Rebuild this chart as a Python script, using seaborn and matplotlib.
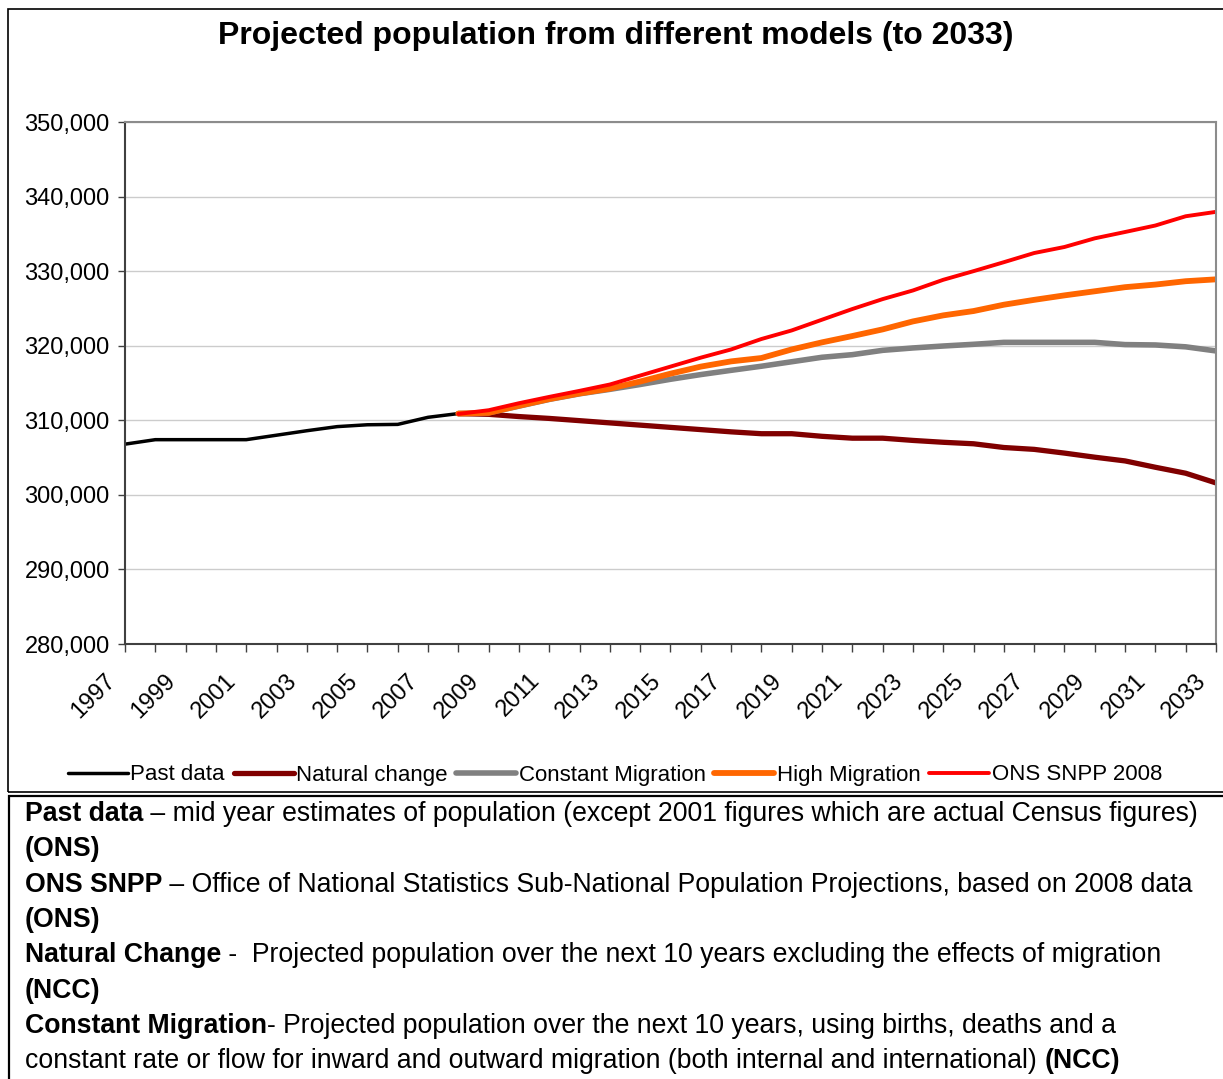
import pandas as pd
import seaborn as sns
import matplotlib.pyplot as plt
from matplotlib.patches import Rectangle
from matplotlib.ticker import FuncFormatter, MultipleLocator
from matplotlib.transforms import ScaledTranslation

# Data
past_years = list(range(1997, 2009))
past_data = [306800, 307400, 307400, 307400, 307400, 308000, 308600, 309150,
             309400, 309450, 310400, 310900]

proj_years = list(range(2008, 2034))
natural_change = [310900, 310800, 310500, 310250, 309950, 309650, 309350, 309050,
                  308750, 308450, 308200, 308200, 307850, 307600, 307600, 307300,
                  307050, 306850, 306350, 306100, 305600, 305050, 304550, 303700,
                  302900, 301600]
constant_migration = [310900, 311000, 311900, 312800, 313550, 314150, 314800, 315500,
                      316130, 316700, 317250, 317850, 318450, 318800, 319380, 319700,
                      319960, 320190, 320450, 320450, 320450, 320450, 320150, 320100,
                      319850, 319300]
high_migration = [310900, 311000, 311950, 312850, 313600, 314250, 315200, 316250,
                  317200, 317900, 318350, 319500, 320450, 321300, 322190, 323260,
                  324070, 324650, 325500, 326150, 326750, 327300, 327850, 328200,
                  328650, 328900]
ons_snpp = [310850, 311350, 312290, 313140, 313950, 314800, 316000, 317200,
            318400, 319500, 320900, 322050, 323490, 324920, 326250, 327410,
            328840, 330000, 331200, 332430, 333240, 334400, 335250, 336120,
            337360, 337950]

series_names = ["Past data", "Natural change", "Constant Migration",
                "High Migration", "ONS SNPP 2008"]
series_colors = ["#000000", "#800000", "#808080", "#FF6600", "#FF0000"]
series_widths = [2.5, 3.8, 4.0, 4.2, 2.8]

frames = [pd.DataFrame({"year": past_years, "population": past_data, "model": "Past data"})]
for name, vals in zip(series_names[1:], [natural_change, constant_migration,
                                         high_migration, ons_snpp]):
    frames.append(pd.DataFrame({"year": proj_years, "population": vals, "model": name}))
df = pd.concat(frames, ignore_index=True)

sns.set_style("white")
plt.rcParams['font.family'] = ['Liberation Sans', 'DejaVu Sans']
plt.rcParams['text.color'] = 'black'
plt.rcParams['xtick.color'] = 'black'
plt.rcParams['ytick.color'] = 'black'

W, H = 1223, 1079
fig = plt.figure(figsize=(W / 100, H / 100), dpi=100)
ax = fig.add_axes([125 / W, 1 - 644 / H, (1216 - 125) / W, (644 - 122) / H])

for name, col, lw in zip(series_names, series_colors, series_widths):
    sns.lineplot(data=df[df["model"] == name], x="year", y="population", color=col,
                 linewidth=lw, label=name, ax=ax, solid_capstyle="round",
                 solid_joinstyle="round")

ax.set_xlim(1997, 2033)
ax.set_ylim(280000, 350000)
ax.set_xticks(range(1997, 2034, 2))
ax.xaxis.set_minor_locator(MultipleLocator(1))
ax.yaxis.set_major_locator(MultipleLocator(10000))
ax.yaxis.set_major_formatter(FuncFormatter(lambda v, p: f"{int(v):,}"))
ax.grid(axis="y", color="#cccccc", linewidth=1.0)
ax.set_axisbelow(True)
ax.set_xlabel("")
ax.set_ylabel("")

ax.tick_params(axis="y", which="major", direction="out", length=5, width=1,
               color="#404040", labelsize=17, pad=6, left=True)
ax.tick_params(axis="x", which="both", direction="out", length=6, width=1,
               color="#404040", bottom=True)
ax.tick_params(axis="x", which="major", labelsize=17, pad=10)
# shift the slanted year labels down-left like the original
shift = ScaledTranslation(-13 / 100, -11 / 100, fig.dpi_scale_trans)
for lab in ax.get_xticklabels():
    lab.set_rotation(45)
    lab.set_ha("right")
    lab.set_va("center")
    lab.set_rotation_mode("anchor")
    lab.set_transform(lab.get_transform() + shift)

for side in ["left", "bottom"]:
    ax.spines[side].set_color("#404040")
    ax.spines[side].set_linewidth(1.5)
for side in ["top", "right"]:
    ax.spines[side].set_color("#8c8c8c")
    ax.spines[side].set_linewidth(1.5)

handles, labels = ax.get_legend_handles_labels()
ax.get_legend().remove()
fig.legend(handles, labels, loc="center", bbox_to_anchor=(615 / W, 1 - 775 / H),
           ncol=5, frameon=False, fontsize=16, handlelength=2.7,
           handletextpad=0.1, columnspacing=0.4)

fig.text(616 / W, 1 - 36 / H, "Projected population from different models (to 2033)",
         ha="center", va="center", fontsize=23, weight="bold")

# frames around chart and notes
fig.patches.append(Rectangle((7.5 / W, 1 - 792 / H), 1.0, (792 - 9) / H,
                             transform=fig.transFigure, fill=False,
                             edgecolor="black", linewidth=1.2))
fig.patches.append(Rectangle((8.5 / W, -0.05), 1.0, 0.05 + 1 - 796 / H,
                             transform=fig.transFigure, fill=False,
                             edgecolor="black", linewidth=1.6))

notes = [
    [("Past data", True), (" \u2013 mid year estimates of population (except 2001 figures which are actual Census figures)", False)],
    [("(ONS)", True)],
    [("ONS SNPP", True), (" \u2013 Office of National Statistics Sub-National Population Projections, based on 2008 data", False)],
    [("(ONS)", True)],
    [("Natural Change", True), (" -  Projected population over the next 10 years excluding the effects of migration", False)],
    [("(NCC)", True)],
    [("Constant Migration", True), ("- Projected population over the next 10 years, using births, deaths and a", False)],
    [("constant rate or flow for inward and outward migration (both internal and international) ", False), ("(NCC)", True)],
]
renderer = fig.canvas.get_renderer()
for i, parts in enumerate(notes):
    y = 821 + i * 35.3
    x = 25
    for txt, bold in parts:
        t = fig.text(x / W, 1 - y / H, txt, fontsize=19.15,
                     weight="bold" if bold else "normal", va="baseline")
        x = t.get_window_extent(renderer).x1

fig.savefig("out.png", dpi=100)
